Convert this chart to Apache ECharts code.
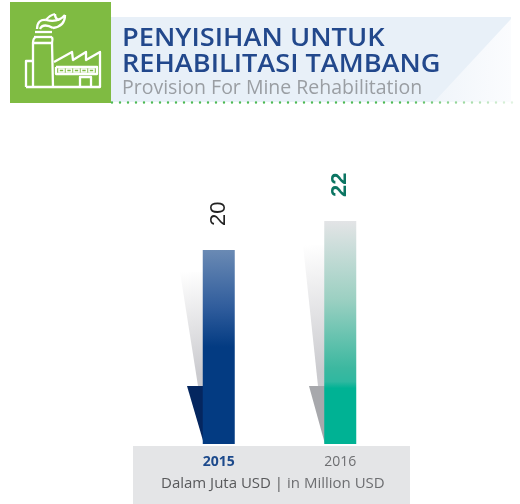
<!DOCTYPE html>
<html>
<head>
<meta charset="utf-8">
<style>
  html, body { margin: 0; padding: 0; background: #fff; }
  #chart { width: 520px; height: 504px; }
</style>
<script src="https://cdn.jsdelivr.net/npm/echarts@6/dist/echarts.min.js"></script>
</head>
<body>
<div id="chart"></div>
<script>
const years = ["2015", "2016"];
const provision = [20, 22];
const titleLines = ["PENYISIHAN UNTUK", "REHABILITASI TAMBANG"];
const subtitle = "Provision For Mine Rehabilitation";
const unitId = "Dalam Juta USD";
const unitEn = "in Million USD";

const font = '"Open Sans", sans-serif';

function fade(stops) {
  return new echarts.graphic.LinearGradient(0, 0, 0, 1, stops);
}

// grey soft shadow next to each bar
function softShadow(xTop, xBottom, xBar, yTop, yBottom) {
  return {
    type: "polygon",
    silent: true,
    shape: { points: [[xTop, yTop], [xBar, yTop], [xBar, yBottom], [xBottom, yBottom]] },
    style: {
      fill: new echarts.graphic.LinearGradient(0, 0, 0.7, 0.9, [
        { offset: 0, color: "rgba(200,200,204,0)" },
        { offset: 1, color: "rgba(200,200,204,0.95)" }
      ])
    }
  };
}

// white icon strokes
function iconLine(points) {
  return {
    type: "polyline", z: -2, silent: true,
    shape: { points: points },
    style: { fill: null, stroke: "#fff", lineWidth: 2.3, lineJoin: "round" }
  };
}

function iconCurve(x1, y1, cpx1, cpy1, cpx2, cpy2, x2, y2) {
  return {
    type: "bezierCurve", z: -2, silent: true,
    shape: { x1, y1, cpx1, cpy1, cpx2, cpy2, x2, y2 },
    style: { fill: null, stroke: "#fff", lineWidth: 2.3 }
  };
}

function iconWindow(x) {
  return {
    type: "rect", z: -2, silent: true,
    shape: { x: x, y: 69, width: 5, height: 3 },
    style: { fill: "#7fbb42", stroke: "#fff", lineWidth: 1.6 }
  };
}

const iconParts = [
  iconLine([[26, 87], [100, 87], [100, 52], [86, 60], [86, 52], [73, 60], [72, 52], [54, 62]]),
  iconLine([[33, 61], [26, 61], [26, 87]]),
  iconLine([[33, 87], [33, 43], [52, 43], [53, 87]]),
  iconLine([[34, 37], [52, 37]]),
  iconLine([[35, 32], [52, 32]]),
  iconCurve(33, 43, 33, 38, 36, 37, 36, 37),
  iconCurve(52, 43, 53, 39, 52, 37, 52, 37),
  iconLine([[80, 87], [80, 77], [91, 77], [91, 87]]),
  iconLine([[56, 67], [97, 67], [97, 74], [56, 74], [56, 67]]),
  iconWindow(59), iconWindow(66.5), iconWindow(74), iconWindow(81.5), iconWindow(89),
  iconCurve(37, 29, 37, 22, 41, 19, 46, 20),
  iconCurve(46, 20, 54, 22, 60, 21, 65, 15),
  iconCurve(65, 15, 65, 23, 60, 27, 53, 28),
  iconCurve(53, 28, 48, 25, 42, 24, 40, 29),
  iconCurve(46, 20, 49, 16, 51, 15, 55, 14),
  iconCurve(55, 14, 55, 17, 56, 19, 59, 20)
];

const option = {
  animation: false,
  backgroundColor: "#fff",
  grid: { left: 158, width: 243, top: 192, height: 252 },
  xAxis: {
    type: "category",
    data: years,
    axisLine: { show: false },
    axisTick: { show: false },
    axisLabel: {
      margin: 11,
      fontFamily: font,
      fontSize: 14,
      formatter: (v, i) => (i === 0 ? "{a|" + v + "}" : "{b|" + v + "}"),
      rich: {
        a: { fontFamily: font, fontSize: 14, fontWeight: "bold", color: "#1d4a8c" },
        b: { fontFamily: font, fontSize: 14, color: "#6d6e71" }
      }
    }
  },
  yAxis: { type: "value", min: 6.6, max: 24, show: false },
  series: [
    {
      type: "bar",
      barWidth: 32,
      z: 5,
      label: {
        show: true,
        position: "top",
        rotate: 90,
        align: "left",
        verticalAlign: "middle",
        distance: 24,
        fontFamily: '"Liberation Sans", sans-serif',
        fontSize: 22
      },
      data: [
        {
          value: provision[0],
          label: { color: "#222" },
          itemStyle: {
            color: fade([
              { offset: 0, color: "#6a8ab4" },
              { offset: 0.3, color: "#2f5c9c" },
              { offset: 0.5, color: "#033b82" },
              { offset: 1, color: "#033b82" }
            ])
          }
        },
        {
          value: provision[1],
          label: { color: "#0b7562", fontWeight: "bold" },
          itemStyle: {
            color: fade([
              { offset: 0, color: "#e3e4e6" },
              { offset: 0.35, color: "#9cd0c2" },
              { offset: 0.66, color: "#3cb8a0" },
              { offset: 0.72, color: "#2fb8a0" },
              { offset: 0.75, color: "#00b294" },
              { offset: 1, color: "#00b294" }
            ])
          }
        }
      ]
    }
  ],
  graphic: [
    // header panel
    { type: "rect", z: -5, silent: true, shape: { x: 111, y: 17, width: 400, height: 85 }, style: { fill: "#e8f0f8" } },
    {
      type: "polygon", z: -4, silent: true,
      shape: { points: [[511, 19], [511, 102], [434, 102]] },
      style: { fill: new echarts.graphic.LinearGradient(0, 0, 1, 0, [
        { offset: 0, color: "#f0f5fa" },
        { offset: 1, color: "#fbfcfe" }
      ]) }
    },
    { type: "rect", z: -3, silent: true, shape: { x: 10, y: 2, width: 101, height: 101 }, style: { fill: "#7fbb42" } },
    {
      type: "line", z: -3, silent: true,
      shape: { x1: 112, y1: 102.5, x2: 514, y2: 102.5 },
      style: {
        lineWidth: 2.4, lineCap: "round", lineDash: [0, 8],
        stroke: new echarts.graphic.LinearGradient(0, 0, 1, 0, [
          { offset: 0, color: "#4dba55" },
          { offset: 0.72, color: "#4dba55" },
          { offset: 1, color: "#e6f5e6" }
        ])
      }
    },
    ...iconParts,
    // header text
    {
      type: "text", z: 1, silent: true, x: 122, y: 26, scaleX: 1.09,
      style: { text: titleLines[0], fontFamily: font, fontSize: 25, fontWeight: 600, fill: "#22488c" }
    },
    {
      type: "text", z: 1, silent: true, x: 122, y: 52, scaleX: 1.085,
      style: { text: titleLines[1], fontFamily: font, fontSize: 25, fontWeight: 600, fill: "#22488c" }
    },
    {
      type: "text", z: 1, silent: true, x: 122, y: 78,
      style: { text: subtitle, fontFamily: font, fontSize: 19.5, fill: "#9a9ea3" }
    },
    // bar shadows
    softShadow(180, 198, 204, 272, 386),
    softShadow(303, 318, 325, 245, 386),
    {
      type: "polygon", z: 1, silent: true,
      shape: { points: [[187, 386], [204, 386], [204, 444]] },
      style: { fill: "#04265f" }
    },
    {
      type: "polygon", z: 1, silent: true,
      shape: { points: [[309, 386], [325, 386], [325, 444]] },
      style: { fill: "#a7a8ac" }
    },
    // bottom band
    { type: "rect", z: -1, silent: true, shape: { x: 133, y: 446, width: 277, height: 58 }, style: { fill: "#e4e5e7" } },
    {
      type: "text", z: 1, silent: true, x: 161, y: 476,
      style: {
        text: "{a|" + unitId + " | }{b|" + unitEn + "}",
        rich: {
          a: { fontFamily: font, fontSize: 15, fill: "#58595b" },
          b: { fontFamily: font, fontSize: 15, fill: "#6d6e71" }
        }
      }
    }
  ]
};

let chart = echarts.init(document.querySelector("#chart"));
chart.setOption(option);
</script>
</body>
</html>
